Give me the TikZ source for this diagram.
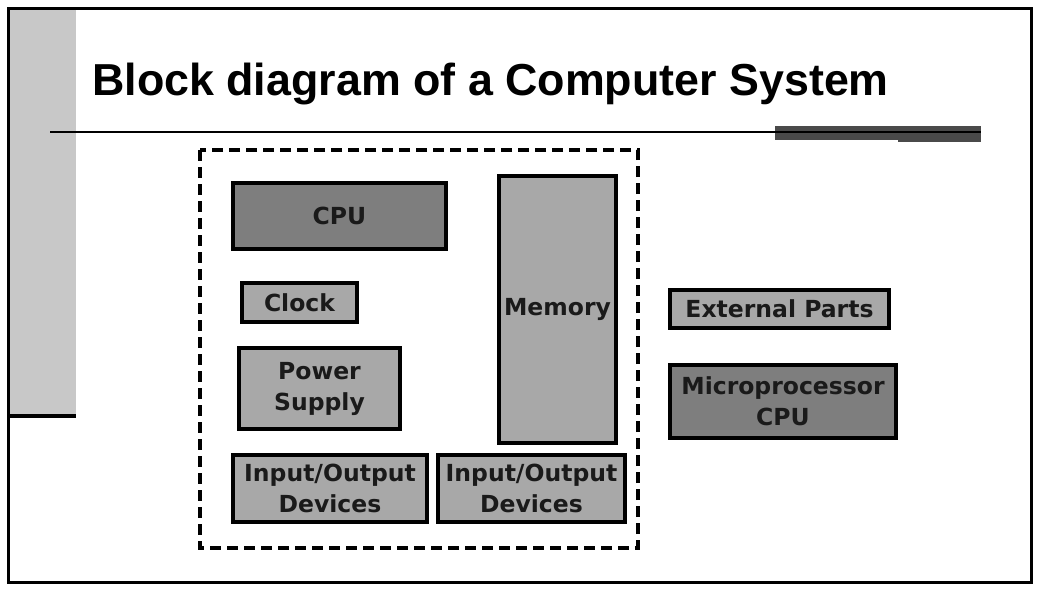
\documentclass[tikz,border=0pt]{standalone}
\usepackage{fontspec}
\newfontfamily\headfont{Liberation Sans}
\newfontfamily\boxfont{DejaVu Sans}
\usetikzlibrary{positioning}
\definecolor{darkblk}{HTML}{7E7E7E}
\definecolor{lightblk}{HTML}{A8A8A8}
\definecolor{sidebar}{HTML}{C8C8C8}
\definecolor{rulegray}{HTML}{4A4A4A}
\definecolor{ink}{HTML}{1A1A1A}
\tikzset{
  blk/.style={draw=black, line width=3.4pt, fill=lightblk, text=ink, align=center,
    inner sep=0pt, font=\boxfont\bfseries\fontsize{23.5}{31}\selectfont},
  darkblk/.style={blk, fill=darkblk}
}

\begin{document}
\begin{tikzpicture}[x=1pt, y=-1pt]
  \useasboundingbox (0,0) rectangle (1039,592);

  % slide frame and side bar
  \fill[white] (0,0) rectangle (1039,592);
  \fill[sidebar] (10,10) rectangle (76,415);
  \draw[line width=3.5pt] (10,416) -- (76,416);
  \draw[line width=3pt] (8,8) rectangle (1031,582);

  % title and rule
  \node[anchor=base west, inner sep=0pt, text=black,
        font=\headfont\bfseries\fontsize{44.8}{50}\selectfont] (title) at (92,95)
        {Block diagram of a Computer System};
  \fill[rulegray] (775,126) rectangle (981,140);
  \fill[rulegray] (898,130) rectangle (981,142);
  \draw[line width=1.8pt] (50,132) -- (981,132);

  % system boundary
  \draw[line width=3.4pt, dash pattern=on 11pt off 6pt] (200,150) rectangle (638,548);

  % blocks
  \node[darkblk, minimum width=213pt, minimum height=66pt] (cpu) at (339.5,216) {CPU};
  \node[blk, minimum width=115pt, minimum height=39pt] (clock) at (299.5,302.5) {Clock};
  \node[blk, minimum width=117pt, minimum height=267pt] (memory) at (557.5,309.5) {Memory};
  \node[blk, minimum width=161pt, minimum height=81pt] (power) at (319.5,388.5) {Power\\Supply};
  \node[blk, minimum width=194pt, minimum height=67pt] (io1) at (330,488.5) {Input/Output\\Devices};
  \node[blk, minimum width=187pt, minimum height=67pt] (io2) at (531.5,488.5) {Input/Output\\Devices};

  \node[blk, minimum width=219pt, minimum height=38pt] (ext) at (779.5,309) {External Parts};
  \node[darkblk, minimum width=226pt, minimum height=73pt] (micro) at (783,401.5) {Microprocessor\\CPU};

\end{tikzpicture}
\end{document}
